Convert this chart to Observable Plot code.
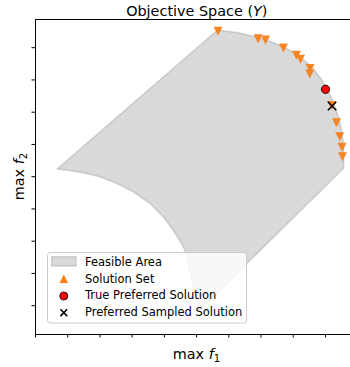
<!DOCTYPE html>
<html><head><meta charset="utf-8">
<script src="https://cdn.jsdelivr.net/npm/d3@7"></script>
<script src="https://cdn.jsdelivr.net/npm/@observablehq/plot@0.6"></script>
<style>
html,body{margin:0;padding:0;background:#fff;overflow:hidden;}
#chart svg{display:block;}
</style></head><body><div id="chart"></div>
<script>
// tick positions (labels hidden in the original)
const xTicks = [0,1,2,3,4,5,6,7,8,9];
const yTicks = [0,1,2,3,4,5,6,7,8];

// feasible area boundary
const feasibleX = [0.670, 5.642, 6.279, 6.900, 7.334, 7.737, 8.110, 8.389, 8.638, 8.855, 9.041, 9.196, 9.320, 9.429, 9.507, 9.562, 9.569, 9.562,
  5.115, 5.006, 4.913, 4.836, 4.736, 4.687, 4.531, 4.271, 3.960, 3.547, 3.029, 2.514, 1.996, 1.468, 1.002];
const feasibleY = [4.239, 8.539, 8.471, 8.316, 8.177, 8.006, 7.789, 7.572, 7.324, 7.045, 6.750, 6.425, 6.099, 5.758, 5.386, 4.983, 4.642, 4.260,
  -0.118, 0.177, 0.487, 0.899, 1.355, 1.625, 1.935, 2.347, 2.760, 3.175, 3.535, 3.795, 4.000, 4.124, 4.198];

// solution set
const solutionX = [5.667, 6.909, 7.138, 7.697, 8.101, 8.225, 8.520, 8.513, 9.193, 9.342, 9.444, 9.516, 9.528];
const solutionY = [8.508, 8.279, 8.239, 7.991, 7.764, 7.640, 7.355, 7.184, 6.208, 5.674, 5.240, 4.912, 4.620];

// preferred solutions
const trueX = [9.001], trueY = [6.710];
const sampledX = [9.205], sampledY = [6.192];

const legendLabels = ["Feasible Area", "Solution Set", "True Preferred Solution", "Preferred Sampled Solution"];

const feasible = feasibleX.map((x, i) => ({x, y: feasibleY[i]}));
const solution = solutionX.map((x, i) => ({x, y: solutionY[i]}));
const truePref = trueX.map((x, i) => ({x, y: trueY[i]}));
const sampled = sampledX.map((x, i) => ({x, y: sampledY[i]}));

const triangleDown = {draw(ctx, size) {
  const r = Math.sqrt(size / Math.PI);
  ctx.moveTo(-r, -r); ctx.lineTo(r, -r); ctx.lineTo(0, r); ctx.closePath();
}};

const chart = Plot.plot({
  width: 350, height: 367,
  marginLeft: 35, marginRight: 0, marginTop: 19, marginBottom: 33,
  style: {fontFamily: "DejaVu Sans", fontSize: "10px", background: "#fff", color: "#000"},
  x: {domain: [0, 9.777], ticks: xTicks, tickSize: 3.5, tickFormat: () => "", label: null},
  y: {domain: [-0.893, 8.874], ticks: yTicks, tickSize: 3.5, tickFormat: () => "", label: null},
  marks: [
    Plot.line(feasible, {x: "x", y: "y", curve: "linear-closed", fill: "gray", fillOpacity: 0.3,
      stroke: "gray", strokeOpacity: 0.3, strokeWidth: 1.5}),
    Plot.dot(solution, {x: "x", y: "y", symbol: triangleDown, r: 4.5, fill: "#f7801a", fillOpacity: 0.95, stroke: "none"}),
    Plot.dot(truePref, {x: "x", y: "y", r: 4.2, fill: "red", stroke: "black", strokeWidth: 0.8}),
    Plot.dot(sampled, {x: "x", y: "y", symbol: "times", r: 3.9, stroke: "black", strokeWidth: 1.5}),
    Plot.ruleX([0], {stroke: "black"}),
    Plot.ruleY([-0.893, 8.874], {stroke: "black"})
  ]
});
document.getElementById("chart").appendChild(chart);

const svg = d3.select(chart);
// title
const t = svg.append("text").attr("x", 196.8).attr("y", 15.5).attr("text-anchor", "middle")
  .style("font-size", "14.4px").attr("fill", "black");
t.append("tspan").text("Objective Space (");
t.append("tspan").style("font-style", "italic").text("Y");
t.append("tspan").text(")");
// x label
const xl = svg.append("text").attr("x", 196.5).attr("y", 359.3).attr("text-anchor", "middle")
  .style("font-size", "14.4px").attr("fill", "black");
xl.append("tspan").text("max ");
xl.append("tspan").style("font-style", "italic").text("f");
xl.append("tspan").style("font-size", "10.1px").attr("dy", 3).text("1");
// y label
const yl = svg.append("text").attr("transform", "translate(24,176.5) rotate(-90)").attr("text-anchor", "middle")
  .style("font-size", "14.4px").attr("fill", "black");
yl.append("tspan").text("max ");
yl.append("tspan").style("font-style", "italic").text("f");
yl.append("tspan").style("font-size", "10.1px").attr("dy", 3).text("2");

// legend
const lg = svg.append("g").attr("text-anchor", "start");
lg.append("rect").attr("x", 47.5).attr("y", 252.5).attr("width", 199).attr("height", 70.5).attr("rx", 3)
  .attr("fill", "white").attr("fill-opacity", 0.8).attr("stroke", "#cccccc").attr("stroke-width", 1);
lg.append("rect").attr("x", 51.7).attr("y", 256.7).attr("width", 24.3).attr("height", 9.3)
  .attr("fill", "gray").attr("fill-opacity", 0.3).attr("stroke", "gray").attr("stroke-opacity", 0.3).attr("stroke-width", 1.5);
lg.append("path").attr("d", "M59.6,283L68,283L63.8,274.6Z").attr("fill", "#ff7f0e");
lg.append("circle").attr("cx", 63.8).attr("cy", 296).attr("r", 4).attr("fill", "red").attr("stroke", "black").attr("stroke-width", 0.8);
lg.append("path").attr("d", "M60.4,309.3L67.2,316.1M60.4,316.1L67.2,309.3").attr("stroke", "black").attr("stroke-width", 1.5);
const baselines = [266, 282.8, 299.3, 316];
legendLabels.forEach((s, i) => {
  lg.append("text").attr("x", 85).attr("y", baselines[i]).attr("text-anchor", "start")
    .style("font-size", "11.5px").attr("fill", "black").text(s);
});
</script>
</body></html>
